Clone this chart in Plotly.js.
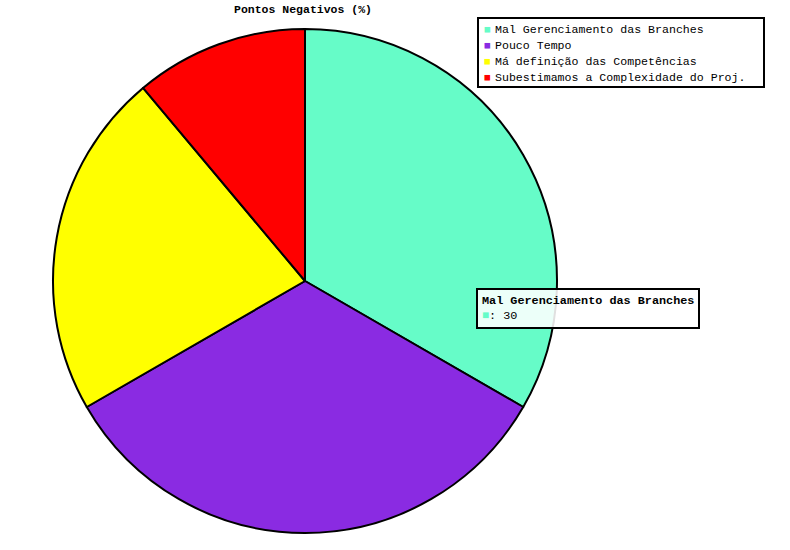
<!DOCTYPE html>
<html>
<head>
<meta charset="utf-8">
<script src="https://cdn.plot.ly/plotly-3.0.1.min.js"></script>
<style>body{margin:0;background:#fff;}#chart{width:790px;height:550px;}</style>
</head>
<body>
<div id="chart"></div>
<script>
const categories = ["Mal Gerenciamento das Branches", "Pouco Tempo", "Má definição das Competências", "Subestimamos a Complexidade do Proj."];
const values = [30, 30, 20, 10];
const colors = ["#66fcc8", "#8a2be2", "#ffff00", "#ff0000"];
const chartTitle = "Pontos Negativos (%)";
const tipIndex = 0;

const mono = "Liberation Mono, Courier New, monospace";
const T = 29, B = 17, H = 550, PH = H - T - B, W = 790;
const px = x => x / W;
const py = y => (H - B - y) / PH;

const trace = {
  type: "pie",
  labels: categories,
  values: values,
  sort: false,
  direction: "clockwise",
  rotation: 0,
  textinfo: "none",
  hoverinfo: "none",
  showlegend: false,
  marker: {colors: colors, line: {color: "#000", width: 2}},
  domain: {x: [53/790, 557/790], y: [0, 1]}
};

// legend drawn as text rows inside a bordered box
const annotations = [];
categories.forEach((c, i) => {
  const yc = 29 + i * 16;
  annotations.push({xref: "paper", yref: "paper", x: px(482), xanchor: "left", y: py(yc), yanchor: "middle",
    showarrow: false, text: "■", font: {family: mono, size: 11.5, color: colors[i]}});
  annotations.push({xref: "paper", yref: "paper", x: px(493), xanchor: "left", y: py(yc), yanchor: "middle",
    showarrow: false, text: c, font: {family: mono, size: 11.6, color: "#000"}});
});

annotations.push({
  xref: "paper", yref: "paper",
  x: px(476), xanchor: "left",
  y: py(288), yanchor: "top",
  showarrow: false, align: "left",
  text: "<b>" + categories[tipIndex] + "</b><br><span style='color:" + colors[tipIndex] + "'>■</span>: " + values[tipIndex],
  font: {family: mono, size: 11.8, color: "#000"},
  bgcolor: "rgba(255,255,255,0.88)", bordercolor: "#000", borderwidth: 2, borderpad: 4
});

const layout = {
  width: W, height: H,
  margin: {l: 0, r: 0, t: T, b: B},
  paper_bgcolor: "#fff",
  font: {family: mono, size: 11.5, color: "#000"},
  title: {text: "<b>" + chartTitle + "</b>", x: 303/790, xanchor: "center", y: 1 - 9/550, yanchor: "middle", font: {family: mono, size: 11.5, color: "#000"}},
  showlegend: false,
  shapes: [{type: "rect", xref: "paper", yref: "paper", x0: px(478), x1: px(764), y0: py(18), y1: py(87),
    line: {color: "#000", width: 2}, fillcolor: "#fff", layer: "above"}],
  annotations: annotations
};

Plotly.newPlot("chart", [trace], layout, {displayModeBar: false, staticPlot: true});
</script>
</body>
</html>
